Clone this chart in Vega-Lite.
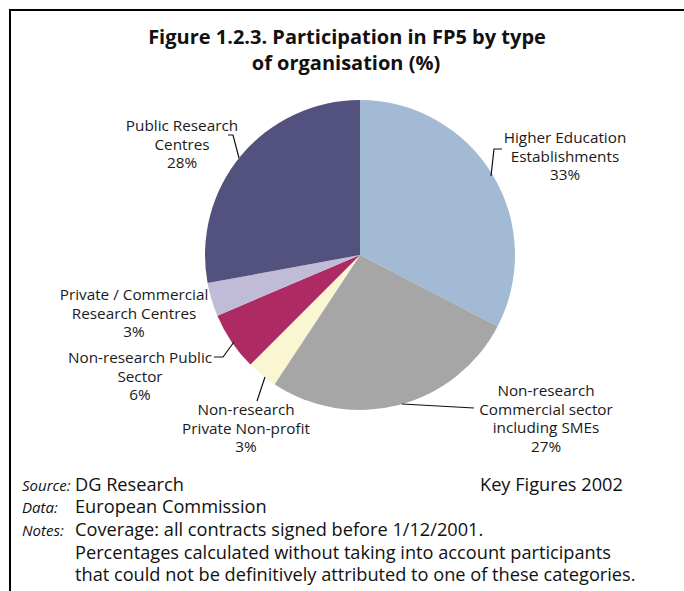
{
  "$schema": "https://vega.github.io/schema/vega-lite/v6.json",
  "width": 648,
  "height": 492,
  "autosize": {"type": "none"},
  "padding": {"left": 36, "top": 9, "right": 0, "bottom": 90},
  "background": "white",
  "config": {"view": {"stroke": null}, "font": "Open Sans"},
  "datasets": {
    "slices": [
      {"category": "Higher Education Establishments", "share": 32.6, "order": 1},
      {"category": "Non-research Commercial sector including SMEs", "share": 26.7, "order": 2},
      {"category": "Non-research Private Non-profit", "share": 3.2, "order": 3},
      {"category": "Non-research Public Sector", "share": 6.1, "order": 4},
      {"category": "Private / Commercial Research Centres", "share": 3.5, "order": 5},
      {"category": "Public Research Centres", "share": 27.9, "order": 6}
    ],
    "labels": [
      {"lines": ["Higher Education", "Establishments", "33%"], "x": 565, "y": 143},
      {"lines": ["Non-research", "Commercial sector", "including SMEs", "27%"], "x": 546, "y": 396},
      {"lines": ["Non-research", "Private Non-profit", "3%"], "x": 246, "y": 415},
      {"lines": ["Non-research Public", "Sector", "6%"], "x": 140, "y": 363},
      {"lines": ["Private / Commercial", "Research Centres", "3%"], "x": 134, "y": 300},
      {"lines": ["Public Research", "Centres", "28%"], "x": 182, "y": 131}
    ],
    "leaders": [
      {"g": "he", "i": 1, "x": 491, "y": 176},
      {"g": "he", "i": 2, "x": 494, "y": 149},
      {"g": "he", "i": 3, "x": 502, "y": 149},
      {"g": "co", "i": 1, "x": 402, "y": 404},
      {"g": "co", "i": 2, "x": 474, "y": 408},
      {"g": "np", "i": 1, "x": 265, "y": 377},
      {"g": "np", "i": 2, "x": 257, "y": 401},
      {"g": "ps", "i": 1, "x": 214, "y": 357},
      {"g": "ps", "i": 2, "x": 223, "y": 357},
      {"g": "ps", "i": 3, "x": 234, "y": 342},
      {"g": "pr", "i": 1, "x": 228, "y": 135},
      {"g": "pr", "i": 2, "x": 233, "y": 135},
      {"g": "pr", "i": 3, "x": 239, "y": 158}
    ],
    "notes_head": [
      {"t": "Source:", "x": 22, "y": 491},
      {"t": "Data:", "x": 22, "y": 513},
      {"t": "Notes:", "x": 22, "y": 536}
    ],
    "notes_body": [
      {"t": "DG Research", "x": 75, "y": 491},
      {"t": "Key Figures 2002", "x": 480, "y": 491},
      {"t": "European Commission", "x": 75, "y": 513},
      {"t": "Coverage: all contracts signed before 1/12/2001.", "x": 75, "y": 536},
      {"t": "Percentages calculated without taking into account participants", "x": 75, "y": 559},
      {"t": "that could not be definitively attributed to one of these categories.", "x": 75, "y": 581}
    ],
    "title": [
      {"t": "Figure 1.2.3. Participation in FP5 by type", "x": 347, "y": 44},
      {"t": "of organisation (%)", "x": 346, "y": 70}
    ]
  },
  "layer": [
    {
      "data": {"name": "slices"},
      "mark": {"type": "arc", "outerRadius": 155},
      "encoding": {
        "theta": {"field": "share", "type": "quantitative", "stack": true},
        "order": {"field": "order", "type": "quantitative"},
        "color": {
          "field": "category",
          "type": "nominal",
          "legend": null,
          "scale": {
            "domain": ["Higher Education Establishments", "Non-research Commercial sector including SMEs", "Non-research Private Non-profit", "Non-research Public Sector", "Private / Commercial Research Centres", "Public Research Centres"],
            "range": ["#a2bad3", "#a6a6a6", "#faf6d2", "#ae2a63", "#c0bcd8", "#53527f"]
          }
        }
      }
    },
    {
      "data": {"name": "leaders"},
      "mark": {"type": "line", "color": "#111111", "strokeWidth": 1.2},
      "encoding": {
        "x": {"field": "x", "type": "quantitative", "axis": null, "scale": {"domain": [36, 684], "zero": false, "nice": false}},
        "y": {"field": "y", "type": "quantitative", "axis": null, "scale": {"domain": [9, 501], "zero": false, "nice": false, "reverse": true}},
        "detail": {"field": "g", "type": "nominal"},
        "order": {"field": "i", "type": "quantitative"}
      }
    },
    {
      "data": {"name": "labels"},
      "mark": {"type": "text", "align": "center", "baseline": "alphabetic", "fontSize": 15.3, "lineHeight": 18.5, "color": "#1a1a1a"},
      "encoding": {
        "x": {"field": "x", "type": "quantitative"},
        "y": {"field": "y", "type": "quantitative"},
        "text": {"field": "lines"}
      }
    },
    {
      "data": {"name": "title"},
      "mark": {"type": "text", "align": "center", "baseline": "alphabetic", "fontSize": 20, "fontWeight": "bold", "color": "#111111"},
      "encoding": {
        "x": {"field": "x", "type": "quantitative"},
        "y": {"field": "y", "type": "quantitative"},
        "text": {"field": "t"}
      }
    },
    {
      "data": {"name": "notes_head"},
      "mark": {"type": "text", "align": "left", "baseline": "alphabetic", "fontSize": 15, "fontStyle": "italic", "color": "#111111"},
      "encoding": {
        "x": {"field": "x", "type": "quantitative"},
        "y": {"field": "y", "type": "quantitative"},
        "text": {"field": "t"}
      }
    },
    {
      "data": {"name": "notes_body"},
      "mark": {"type": "text", "align": "left", "baseline": "alphabetic", "fontSize": 18.2, "color": "#111111"},
      "encoding": {
        "x": {"field": "x", "type": "quantitative"},
        "y": {"field": "y", "type": "quantitative"},
        "text": {"field": "t"}
      }
    },
    {
      "data": {"values": [{}]},
      "mark": {"type": "rule", "color": "#000000", "strokeWidth": 2},
      "encoding": {
        "x": {"datum": 9},
        "x2": {"datum": 684},
        "y": {"datum": 10}
      }
    },
    {
      "data": {"values": [{}]},
      "mark": {"type": "rule", "color": "#000000", "strokeWidth": 2},
      "encoding": {
        "x": {"datum": 10},
        "y": {"datum": 9},
        "y2": {"datum": 591}
      }
    }
  ]
}
